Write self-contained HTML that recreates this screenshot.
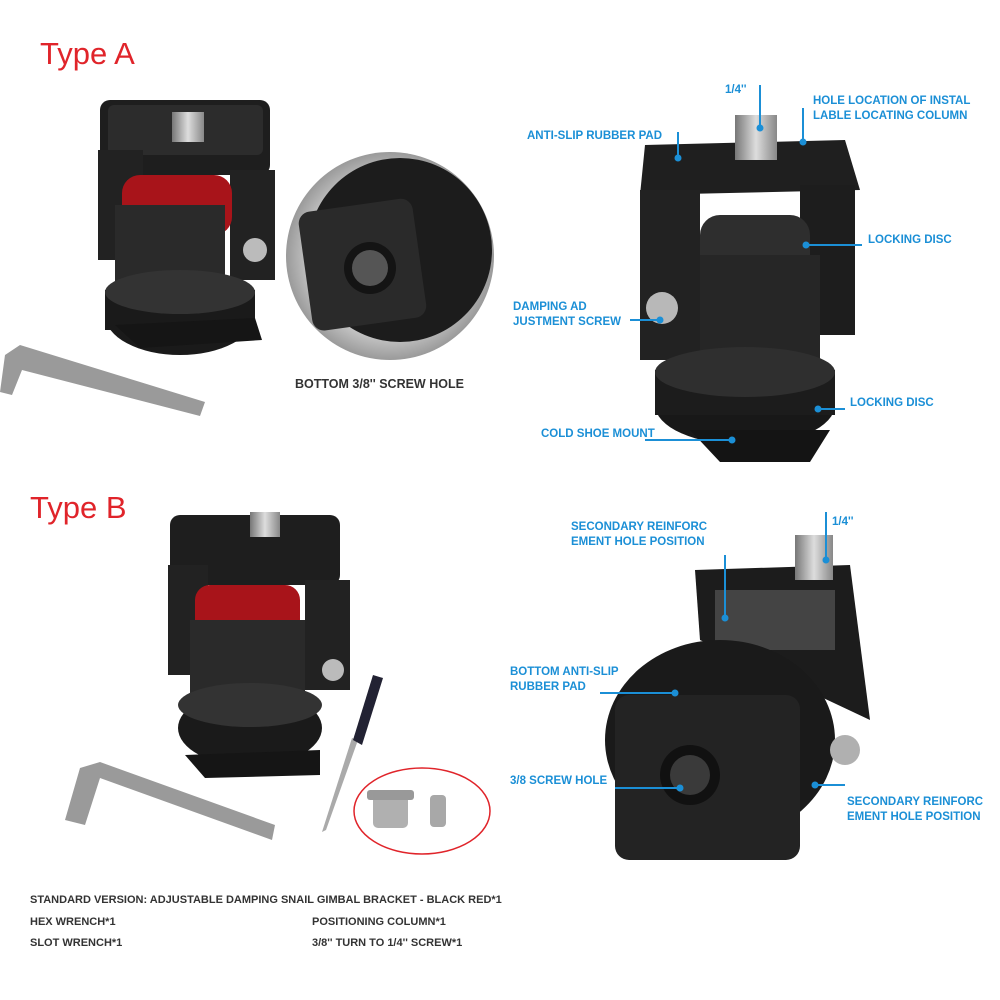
<!DOCTYPE html>
<html><head><meta charset="utf-8"><style>
html,body{margin:0;padding:0;background:#fff;}
svg{display:block;}
.l{font-family:"Liberation Sans",sans-serif;font-weight:bold;font-size:11.5px;fill:#1b8fd6;}
.b{font-family:"Liberation Sans",sans-serif;font-weight:bold;font-size:11px;fill:#333;}
.t{font-family:"Liberation Sans",sans-serif;font-size:31px;fill:#e0242a;}
.ln{stroke:#1b8fd6;stroke-width:2;fill:none;}
.dot{fill:#1b8fd6;}
</style></head><body>
<svg width="1000" height="1000" viewBox="0 0 1000 1000" xmlns="http://www.w3.org/2000/svg">
<defs>
<linearGradient id="g1" x1="0" x2="1"><stop offset="0" stop-color="#777"/><stop offset="0.5" stop-color="#ddd"/><stop offset="1" stop-color="#888"/></linearGradient>
<radialGradient id="gc" cx="0.5" cy="0.5" r="0.5"><stop offset="0.6" stop-color="#e8e8e8"/><stop offset="1" stop-color="#9a9a9a"/></radialGradient>
</defs>
<text x="40" y="64" class="t">Type A</text>
<text x="30" y="518" class="t">Type B</text>

<!-- Type A left product -->
<g>
<rect x="100" y="100" width="170" height="75" rx="10" fill="#1e1e1e"/>
<rect x="108" y="105" width="155" height="50" rx="6" fill="#2c2c2c"/>
<rect x="172" y="112" width="32" height="30" fill="url(#g1)"/>
<rect x="98" y="150" width="45" height="110" fill="#222"/>
<rect x="230" y="170" width="45" height="110" fill="#222"/>
<rect x="122" y="175" width="110" height="60" rx="18" fill="#a8141a"/>
<rect x="115" y="205" width="110" height="80" fill="#2a2a2a"/>
<circle cx="255" cy="250" r="12" fill="#bbb"/>
<ellipse cx="180" cy="315" rx="75" ry="40" fill="#1a1a1a"/>
<rect x="105" y="290" width="150" height="40" fill="#1a1a1a"/>
<ellipse cx="180" cy="292" rx="75" ry="22" fill="#333"/>
<polygon points="115,325 255,318 262,340 140,348" fill="#151515"/>
<polygon points="5,355 20,345 205,402 200,416 22,370 12,395 0,392" fill="#9a9a9a"/>
</g>
<!-- circle inset -->
<circle cx="390" cy="256" r="104" fill="url(#gc)"/>
<circle cx="400" cy="250" r="92" fill="#1c1c1c"/>
<rect x="305" y="205" width="115" height="120" rx="12" fill="#2a2a2a" transform="rotate(-8 360 265)"/>
<circle cx="370" cy="268" r="26" fill="#141414"/>
<circle cx="370" cy="268" r="18" fill="#555"/>
<text x="295" y="388" class="b" style="font-size:12.5px">BOTTOM 3/8'' SCREW HOLE</text>

<!-- Type A right product -->
<g>
<polygon points="645,145 845,140 860,190 640,195" fill="#1f1f1f"/>
<rect x="735" y="115" width="42" height="45" fill="url(#g1)"/>
<rect x="640" y="190" width="60" height="170" fill="#222"/>
<rect x="800" y="185" width="55" height="150" fill="#1d1d1d"/>
<rect x="700" y="215" width="110" height="60" rx="20" fill="#2e2e2e"/>
<rect x="700" y="255" width="120" height="110" fill="#262626"/>
<circle cx="662" cy="308" r="16" fill="#b8b8b8"/>
<ellipse cx="745" cy="405" rx="90" ry="40" fill="#181818"/>
<rect x="655" y="370" width="180" height="45" fill="#1c1c1c"/>
<ellipse cx="745" cy="372" rx="90" ry="25" fill="#2f2f2f"/>
<polygon points="690,430 830,430 810,462 720,462" fill="#141414"/>
</g>
<text x="725" y="93" class="l">1/4''</text>
<path class="ln" d="M760 85 L760 128"/><circle class="dot" cx="760" cy="128" r="3.5"/>
<text x="813" y="104" class="l">HOLE LOCATION OF INSTAL</text>
<text x="813" y="119" class="l">LABLE LOCATING COLUMN</text>
<path class="ln" d="M803 108 L803 142"/><circle class="dot" cx="803" cy="142" r="3.5"/>
<text x="527" y="139" class="l">ANTI-SLIP RUBBER PAD</text>
<path class="ln" d="M678 132 L678 158"/><circle class="dot" cx="678" cy="158" r="3.5"/>
<text x="868" y="243" class="l">LOCKING DISC</text>
<path class="ln" d="M806 245 L862 245"/><circle class="dot" cx="806" cy="245" r="3.5"/>
<text x="513" y="310" class="l">DAMPING AD</text>
<text x="513" y="325" class="l">JUSTMENT SCREW</text>
<path class="ln" d="M630 320 L660 320"/><circle class="dot" cx="660" cy="320" r="3.5"/>
<text x="850" y="406" class="l">LOCKING DISC</text>
<path class="ln" d="M818 409 L845 409"/><circle class="dot" cx="818" cy="409" r="3.5"/>
<text x="541" y="437" class="l">COLD SHOE MOUNT</text>
<path class="ln" d="M645 440 L732 440"/><circle class="dot" cx="732" cy="440" r="3.5"/>

<!-- Type B left product -->
<g>
<rect x="170" y="515" width="170" height="70" rx="10" fill="#1e1e1e"/>
<rect x="250" y="512" width="30" height="25" fill="url(#g1)"/>
<rect x="168" y="565" width="40" height="110" fill="#222"/>
<rect x="305" y="580" width="45" height="110" fill="#222"/>
<rect x="195" y="585" width="105" height="55" rx="15" fill="#a8141a"/>
<rect x="190" y="620" width="115" height="80" fill="#2a2a2a"/>
<circle cx="333" cy="670" r="11" fill="#bbb"/>
<ellipse cx="250" cy="728" rx="72" ry="38" fill="#1a1a1a"/>
<ellipse cx="250" cy="705" rx="72" ry="22" fill="#333"/>
<polygon points="185,755 320,750 320,775 205,778" fill="#151515"/>
<polygon points="65,820 80,768 100,762 275,825 272,840 100,778 85,825" fill="#9a9a9a"/>
<polygon points="322,832 326,830 358,740 352,738" fill="#aaa"/>
<polygon points="353,740 373,675 383,678 362,745" fill="#223"/>
</g>
<ellipse cx="422" cy="811" rx="68" ry="43" fill="none" stroke="#e0242a" stroke-width="1.5"/>
<rect x="373" y="793" width="35" height="35" rx="5" fill="#b0b0b0"/>
<rect x="367" y="790" width="47" height="10" rx="3" fill="#999"/>
<rect x="430" y="795" width="16" height="32" rx="4" fill="#a8a8a8"/>

<!-- Type B right product -->
<g>
<polygon points="695,570 850,565 870,720 700,640" fill="#1c1c1c"/>
<rect x="795" y="535" width="38" height="45" fill="url(#g1)"/>
<rect x="715" y="590" width="120" height="60" fill="#444"/>
<ellipse cx="720" cy="740" rx="115" ry="100" fill="#1a1a1a"/>
<rect x="615" y="695" width="185" height="165" rx="14" fill="#232323"/>
<circle cx="690" cy="775" r="30" fill="#111"/>
<circle cx="690" cy="775" r="20" fill="#3a3a3a"/>
<circle cx="845" cy="750" r="15" fill="#b0b0b0"/>
</g>
<text x="571" y="530" class="l">SECONDARY REINFORC</text>
<text x="571" y="545" class="l">EMENT HOLE POSITION</text>
<path class="ln" d="M725 555 L725 618"/><circle class="dot" cx="725" cy="618" r="3.5"/>
<text x="832" y="525" class="l">1/4''</text>
<path class="ln" d="M826 512 L826 560"/><circle class="dot" cx="826" cy="560" r="3.5"/>
<text x="510" y="675" class="l">BOTTOM ANTI-SLIP</text>
<text x="510" y="690" class="l">RUBBER PAD</text>
<path class="ln" d="M600 693 L675 693"/><circle class="dot" cx="675" cy="693" r="3.5"/>
<text x="510" y="784" class="l">3/8 SCREW HOLE</text>
<path class="ln" d="M615 788 L680 788"/><circle class="dot" cx="680" cy="788" r="3.5"/>
<text x="847" y="805" class="l">SECONDARY REINFORC</text>
<text x="847" y="820" class="l">EMENT HOLE POSITION</text>
<path class="ln" d="M815 785 L845 785"/><circle class="dot" cx="815" cy="785" r="3.5"/>

<text x="30" y="903" class="b">STANDARD VERSION: ADJUSTABLE DAMPING SNAIL GIMBAL BRACKET - BLACK RED*1</text>
<text x="30" y="925" class="b">HEX WRENCH*1</text>
<text x="312" y="925" class="b">POSITIONING COLUMN*1</text>
<text x="30" y="946" class="b">SLOT WRENCH*1</text>
<text x="312" y="946" class="b">3/8'' TURN TO 1/4'' SCREW*1</text>
</svg>
</body></html>
